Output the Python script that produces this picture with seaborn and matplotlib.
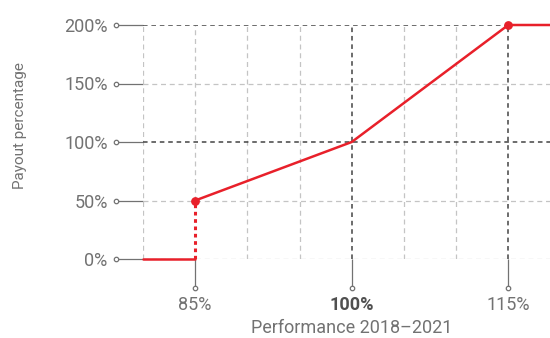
import numpy as np
import matplotlib
matplotlib.use("Agg")
import matplotlib.pyplot as plt
import matplotlib.transforms as mtransforms
import seaborn as sns
import pandas as pd

# data
performance = [80, 85, 85, 100, 115, 119]
payout = [0, 0, 50, 100, 200, 200]
marker_points_x = [85, 115]
marker_points_y = [50, 200]
x_ticks = [85, 100, 115]
x_tick_labels = ["85%", "100%", "115%"]
y_ticks = [0, 50, 100, 150, 200]
y_tick_labels = ["0%", "50%", "100%", "150%", "200%"]
x_grid = [80, 85, 90, 95, 100, 105, 110, 115]
dark_x = [100, 115]
dark_y = [100, 200]

RED = "#e8202a"
GREY = "#727272"
LIGHT = "#c4c4c4"
DARK = "#444444"

sns.set_theme(style="white")
plt.rcParams["font.family"] = ["Roboto", "DejaVu Sans"]

fig = plt.figure(figsize=(5.5, 3.38), dpi=100)
ax = fig.add_axes([143 / 550, 1 - 259 / 338, 1 - 143 / 550, (259 - 25) / 338])

# light dashed grid
for gx in x_grid:
    if gx in dark_x:
        continue
    ymin = 50 if gx == 85 else 0
    ax.plot([gx, gx], [ymin, 200], color=LIGHT, lw=0.9, ls=(0, (4, 3)), zorder=1)
for gy in y_ticks:
    if gy in dark_y:
        continue
    ax.axhline(gy, color=LIGHT, lw=0.9, ls=(0, (4, 3)), zorder=1)

# dark dashed reference lines
for gx in dark_x:
    ax.plot([gx, gx], [0, 200], color=DARK, lw=1.1, ls=(0, (3, 2.5)), zorder=2)
for gy in dark_y:
    ax.axhline(gy, color=DARK, lw=1.1, ls=(0, (3, 2.5)), zorder=2)

# payout curve
df = pd.DataFrame({"performance": performance, "payout": payout})
solid_low = df.iloc[:2]
dotted = df.iloc[1:3]
solid_high = df.iloc[2:]
sns.lineplot(data=solid_low, x="performance", y="payout", color=RED, lw=1.8,
             ax=ax, zorder=4, sort=False, clip_on=False)
ax.plot(dotted["performance"], dotted["payout"], color=RED, lw=2.2,
        ls=(0, (1.2, 1.2)), zorder=4)
sns.lineplot(data=solid_high, x="performance", y="payout", color=RED, lw=1.8,
             ax=ax, zorder=4, sort=False, clip_on=False)
ax.scatter(marker_points_x, marker_points_y, color=RED, s=28, zorder=5,
           clip_on=False)

ax.set_xlim(80, 119)
ax.set_ylim(0, 200)
for s in ax.spines.values():
    s.set_visible(False)

# ticks with lines ending in small circles
ax.set_xticks(x_ticks)
ax.set_xticklabels(x_tick_labels)
ax.set_yticks(y_ticks)
ax.set_yticklabels(y_tick_labels)
ax.tick_params(axis="y", length=19.5, width=0.9, color=GREY, pad=6,
               labelsize=13, labelcolor=GREY, left=True)
ax.tick_params(axis="x", length=21, width=0.9, color=GREY, pad=6,
               labelsize=13, labelcolor=GREY, bottom=True)
bold = ax.get_xticklabels()[1]
bold.set_fontweight("bold")
bold.set_color("#505050")

ytr = mtransforms.offset_copy(ax.get_yaxis_transform(), fig=fig, x=-27, y=0, units="dots")
ax.plot([0] * len(y_ticks), y_ticks, "o", ms=3.2, mfc="white", mec=GREY, mew=0.9,
        transform=ytr, clip_on=False, zorder=6)
xtr = mtransforms.offset_copy(ax.get_xaxis_transform(), fig=fig, x=0, y=-29, units="dots")
ax.plot(x_ticks, [0] * len(x_ticks), "o", ms=3.2, mfc="white", mec=GREY, mew=0.9,
        transform=xtr, clip_on=False, zorder=6)

ax.set_xlabel("Performance 2018\u20132021", fontsize=13, color=GREY)
ax.xaxis.set_label_coords((352 - 143) / (550 - 143), -(328 - 259) / (259 - 25))
ax.xaxis.label.set_va("center")
ax.set_ylabel("Payout percentage", fontsize=11, color=GREY)
ax.yaxis.set_label_coords(-(143 - 20) / (550 - 143), (259 - 126) / (259 - 25))
ax.yaxis.label.set_va("center")

fig.savefig("out.png", dpi=100)
